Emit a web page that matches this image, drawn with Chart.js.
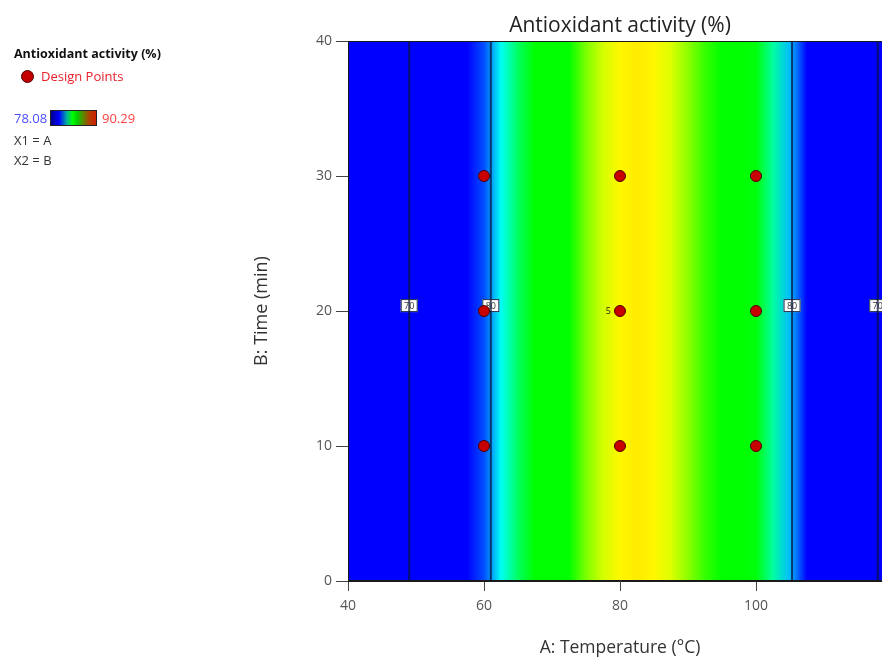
<!DOCTYPE html>
<html>
<head>
<meta charset="utf-8">
<script src="https://cdn.jsdelivr.net/npm/chart.js@4/dist/chart.umd.min.js"></script>
<style>
  html, body { margin: 0; padding: 0; background: #fff; overflow: hidden; width: 882px; height: 659px; }
  #wrap { position: absolute; left: 0; top: 0; width: 900px; height: 659px; }
  .lg { position: absolute; font-family: "Open Sans", sans-serif; font-size: 13px; color: #333; white-space: nowrap; }
</style>
</head>
<body>
<div id="wrap"><canvas id="c" width="900" height="659"></canvas></div>

<div class="lg" style="left:14px;top:45px;font-weight:bold;color:#111;font-size:12.5px;">Antioxidant activity (%)</div>
<div class="lg" style="left:21px;top:70px;width:13px;height:13px;border-radius:50%;background:#c40000;border:1px solid #4a0000;box-sizing:border-box;"></div>
<div class="lg" style="left:41px;top:67px;color:#e8202a;">Design Points</div>
<div class="lg" style="left:14px;top:109px;color:#4d4dff;">78.08</div>
<div class="lg" style="left:50px;top:110px;width:47px;height:16px;box-sizing:border-box;border:1px solid #222;background:linear-gradient(to right,#00008c,#0000ff 18%,#00b0a0 35%,#00ff00 48%,#00d000 58%,#b04000 85%,#d02000);"></div>
<div class="lg" style="left:102px;top:109px;color:#ff4040;">90.29</div>
<div class="lg" style="left:14px;top:131px;">X1 = A</div>
<div class="lg" style="left:14px;top:151px;">X2 = B</div>

<script>
// response surface (depends on temperature only)
const tempGrid = [40, 45, 50, 55, 57.5, 60, 62.5, 65, 67.5, 70, 72.5, 75, 77.5, 80, 82.5, 85, 87.5, 90, 92.5, 95, 97.5, 100, 102.5, 105, 107.5, 110, 115, 120];
const responseGrid = [59.7, 65.7, 71.0, 75.5, 77.5, 79.3, 81.0, 82.4, 83.6, 84.7, 85.6, 86.3, 86.8, 87.15, 87.3, 87.15, 86.85, 86.4, 85.9, 85.2, 84.3, 83.2, 81.8, 80.3, 78.6, 76.7, 72.4, 67.4];

// contour lines (vertical) and their levels
const contourTemps = [49.0, 61.0, 105.3, 117.9];
const contourLevels = ["70", "80", "80", "70"];
const contourLabelTime = 20.4;

// design points
const designTemp = [60, 60, 60, 80, 80, 80, 100, 100, 100];
const designTime = [10, 20, 30, 10, 20, 30, 10, 20, 30];
const replicateNote = { temp: 80, time: 20, text: "5" };

const FONT = '"Open Sans", sans-serif';

// colour map used by the plot
const cmapValues = [78.6, 80.9, 83.3, 85.6, 87.05, 90.29];
const cmapColors = [[0, 0, 255], [0, 255, 255], [0, 255, 0], [0, 255, 0], [255, 255, 0], [255, 0, 0]];

function colormap(v) {
  if (v <= cmapValues[0]) return `rgb(${cmapColors[0].join(",")})`;
  for (let i = 1; i < cmapValues.length; i++) {
    if (v <= cmapValues[i]) {
      const f = (v - cmapValues[i - 1]) / (cmapValues[i] - cmapValues[i - 1]);
      const a = cmapColors[i - 1], b = cmapColors[i];
      const c = a.map((k, j) => Math.round(k + (b[j] - k) * f));
      return `rgb(${c.join(",")})`;
    }
  }
  return `rgb(${cmapColors[cmapColors.length - 1].join(",")})`;
}

const contourSets = contourTemps.map((t) => ({
  type: "line",
  data: [{ x: t, y: 0 }, { x: t, y: 40 }],
  borderColor: "rgba(10,20,60,0.75)",
  borderWidth: 2,
  pointRadius: 0,
  fill: false,
}));

const designSet = {
  type: "scatter",
  data: designTemp.map((t, i) => ({ x: t, y: designTime[i] })),
  backgroundColor: "#c80000",
  borderColor: "#4a0000",
  borderWidth: 1,
  pointRadius: 5.5,
};

const fieldPlugin = {
  id: "field",
  beforeDatasetsDraw(chart) {
    const { ctx, chartArea: { left, top, right, bottom }, scales: { x } } = chart;
    const g = ctx.createLinearGradient(left, 0, right, 0);
    tempGrid.forEach((t, i) => {
      const p = (x.getPixelForValue(t) - left) / (right - left);
      g.addColorStop(Math.min(1, Math.max(0, p)), colormap(responseGrid[i]));
    });
    ctx.save();
    ctx.fillStyle = g;
    ctx.fillRect(left, top, right - left, bottom - top);
    ctx.restore();
  },
  beforeDatasetDraw(chart, args) {
    if (args.index !== contourSets.length) return;
    const { ctx, scales: { x, y } } = chart;
    ctx.save();
    ctx.font = `9px ${FONT}`;
    ctx.textAlign = "center";
    ctx.textBaseline = "middle";
    contourTemps.forEach((t, i) => {
      const px = x.getPixelForValue(t);
      const py = y.getPixelForValue(contourLabelTime);
      ctx.fillStyle = "#fff";
      ctx.fillRect(px - 8.5, py - 6.5, 17, 13);
      ctx.strokeStyle = "#1a2a4a";
      ctx.lineWidth = 1;
      ctx.strokeRect(px - 8, py - 6, 16, 12);
      ctx.fillStyle = "#333";
      ctx.fillText(contourLevels[i], px, py + 0.5);
    });
    ctx.restore();
  },
  afterDatasetsDraw(chart) {
    const { ctx, chartArea: { left, top, right, bottom }, scales: { x, y } } = chart;
    ctx.save();
    ctx.strokeStyle = "#1a1a1a";
    ctx.lineWidth = 1;
    ctx.strokeRect(left + 0.5, top + 0.5, right - left - 1, bottom - top - 1);
    ctx.font = `9px ${FONT}`;
    ctx.fillStyle = "#222";
    ctx.textAlign = "right";
    ctx.textBaseline = "middle";
    ctx.fillText(replicateNote.text, x.getPixelForValue(replicateNote.temp) - 9, y.getPixelForValue(replicateNote.time));
    ctx.restore();
  },
};

new Chart(document.getElementById("c").getContext("2d"), {
  type: "scatter",
  data: { datasets: [...contourSets, designSet] },
  options: {
    responsive: false,
    animation: false,
    layout: { padding: { right: 8 } },
    plugins: {
      legend: { display: false },
      tooltip: { enabled: false },
      title: {
        display: true,
        text: "Antioxidant activity (%)",
        fullSize: false,
        color: "#222",
        font: { family: FONT, size: 21, weight: "normal" },
        padding: { top: 13, bottom: 2.8 },
      },
    },
    scales: {
      x: {
        type: "linear",
        min: 40,
        max: 120,
        ticks: {
          stepSize: 20,
          color: "#555",
          font: { family: FONT, size: 14 },
          padding: 7,
          maxRotation: 0,
          callback: (v) => (v === 120 ? "" : v),
        },
        grid: { drawOnChartArea: false, tickLength: 10, color: "#444" },
        border: { color: "#1a1a1a" },
        title: {
          display: true,
          text: "A: Temperature (°C)",
          color: "#333",
          font: { family: FONT, size: 17.5 },
          padding: { top: 0, bottom: 0 },
        },
        afterFit(s) { s.height = 78; },
      },
      y: {
        type: "linear",
        min: 0,
        max: 40,
        ticks: {
          stepSize: 10,
          color: "#555",
          font: { family: FONT, size: 14 },
          padding: 4,
        },
        grid: { drawOnChartArea: false, tickLength: 12, color: "#444" },
        border: { color: "#1a1a1a" },
        title: {
          display: true,
          text: "B: Time (min)",
          color: "#333",
          font: { family: FONT, size: 18 },
          padding: { top: 251, bottom: 0 },
        },
        afterFit(s) { s.width = 348; },
      },
    },
  },
  plugins: [fieldPlugin],
});
</script>
</body>
</html>
